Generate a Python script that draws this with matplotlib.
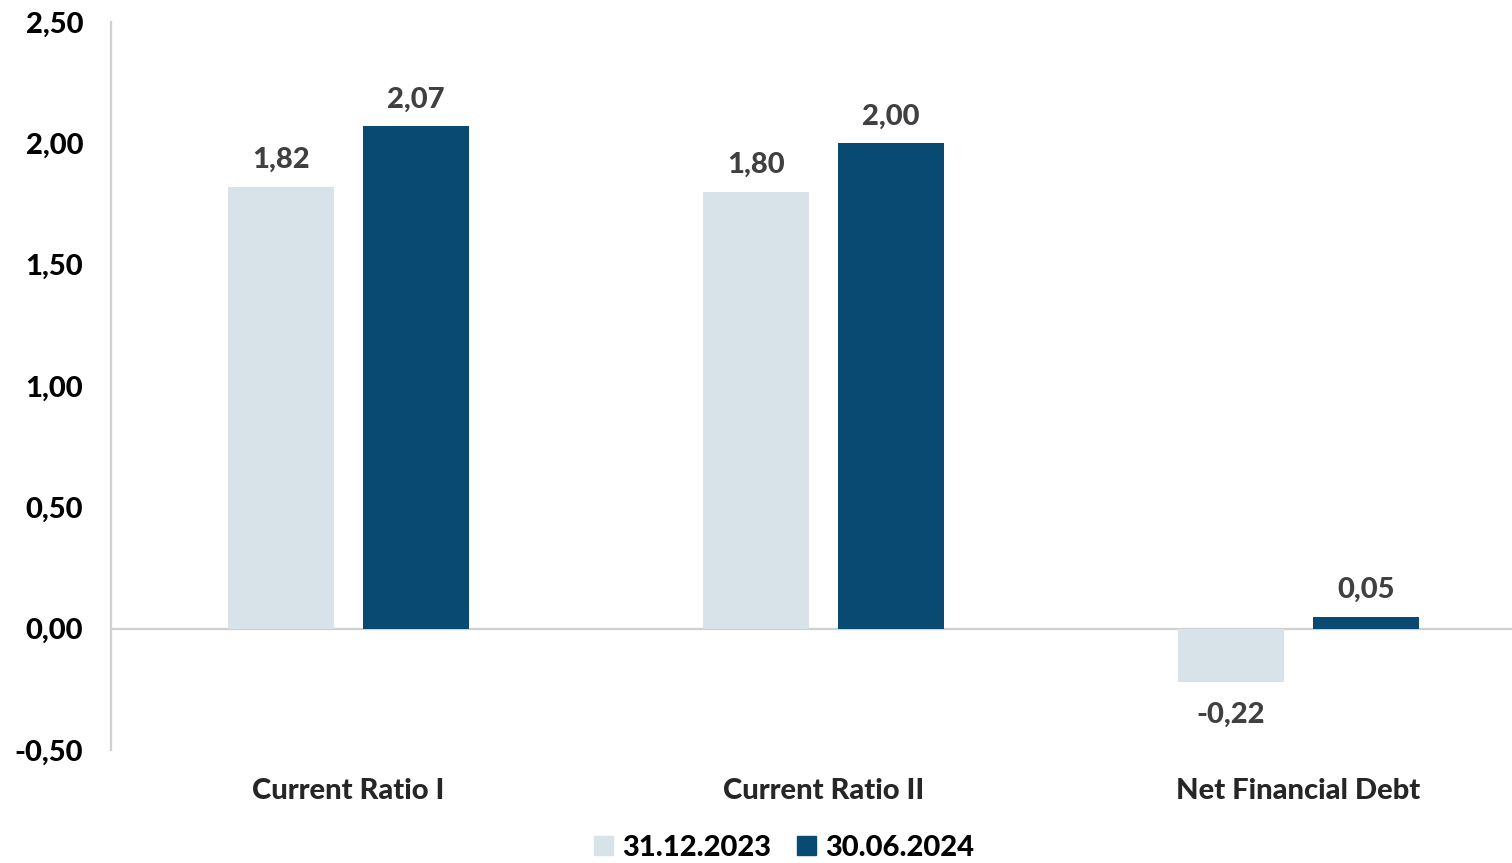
import matplotlib
matplotlib.use("Agg")
import matplotlib.pyplot as plt
import numpy as np
from matplotlib.patches import Patch

categories = ["Current Ratio I", "Current Ratio II", "Net Financial Debt"]
series_names = ["31.12.2023", "30.06.2024"]
values_2023 = [1.82, 1.80, -0.22]
values_2024 = [2.07, 2.00, 0.05]
yticks = [-0.5, 0.0, 0.5, 1.0, 1.5, 2.0, 2.5]
ytick_labels = ["-0,50", "0,00", "0,50", "1,00", "1,50", "2,00", "2,50"]

c_light = "#D7E2E9"
c_dark = "#094A73"
txt = "#404040"
font = ["Lato", "DejaVu Sans"]
plt.rcParams['font.family'] = font
W = 900
FS = 21

fig = plt.figure(figsize=(15.12, 8.63), dpi=100)
ax = fig.add_axes([111/1512, 1-750/863, 1425/1512, (750-22)/863])

x = np.arange(len(categories))
w = 0.223
off = 0.142
b1 = ax.bar(x - off, values_2023, w, color=c_light, zorder=2)
b2 = ax.bar(x + off, values_2024, w, color=c_dark, zorder=2)

for bars, vals in ((b1, values_2023), (b2, values_2024)):
    for r, v in zip(bars, vals):
        xc = r.get_x() + r.get_width()/2
        lab = f"{v:.2f}".replace(".", ",")
        if v >= 0:
            ax.annotate(lab, (xc, v), xytext=(0, 10), textcoords="offset points",
                        ha="center", va="bottom", fontsize=FS, fontweight=W, color=txt)
        else:
            ax.annotate(lab, (xc, v), xytext=(0, -14), textcoords="offset points",
                        ha="center", va="top", fontsize=FS, fontweight=W, color=txt)

ax.axhline(0, color="#D0D0D0", lw=1.6, zorder=1)
ax.set_xlim(-0.5, 2.5)
ax.set_ylim(-0.5, 2.5)
ax.set_yticks(yticks)
ax.set_yticklabels(ytick_labels, fontsize=FS, fontweight=W, color="black")
ax.set_xticks(x)
ax.set_xticklabels(categories, fontsize=FS, fontweight=W, color="#262626")
ax.tick_params(axis="y", length=0, pad=20)
ax.tick_params(axis="x", length=0, pad=20.5)
for s in ("top", "right", "bottom"):
    ax.spines[s].set_visible(False)
ax.spines["left"].set_color("#D0D0D0")
ax.spines["left"].set_linewidth(1.6)

handles = [Patch(color=c_light), Patch(color=c_dark)]
leg = fig.legend(handles, series_names, loc="center", bbox_to_anchor=(784/1512, 1-848/863),
                 ncol=2, frameon=False, handlelength=0.65, handleheight=0.65, handletextpad=0.3,
                 columnspacing=0.9, prop={"size": FS, "weight": W})
for t in leg.get_texts():
    t.set_color("black")

fig.savefig("out.png", dpi=100)
